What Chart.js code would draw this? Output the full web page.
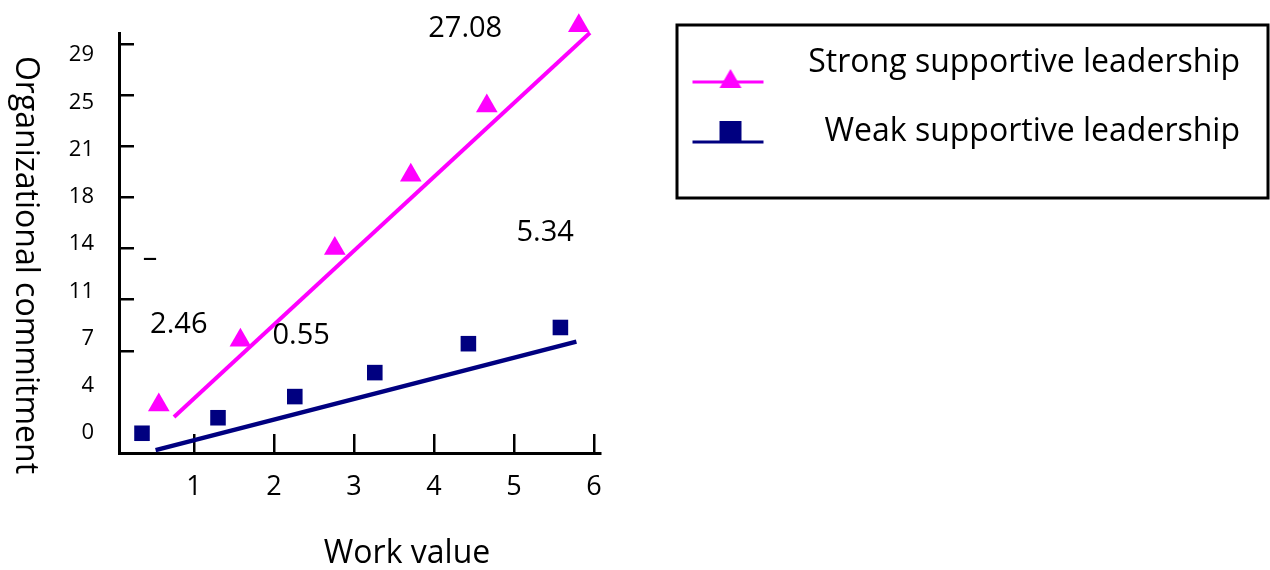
<!DOCTYPE html>
<html>
<head>
<meta charset="utf-8">
<title>Work value and organizational commitment</title>
<script src="https://cdn.jsdelivr.net/npm/chart.js@4.4.1/dist/chart.umd.min.js"></script>
<style>
  body { margin: 0; background: #fff; }
  .box { position: relative; width: 1270px; height: 570px; }
</style>
</head>
<body>
<div class="box"><canvas id="chart"></canvas></div>
<script>
// work value (x) and organizational commitment (y)
const strongWork = [0.56, 1.58, 2.76, 3.71, 4.66, 5.81];
const strongCommit = [3.4, 8.0, 14.5, 19.7, 24.6, 30.3];
const weakWork = [0.35, 1.3, 2.26, 3.26, 4.43, 5.58];
const weakCommit = [1.4, 2.5, 4.0, 5.7, 7.75, 8.9];

// ends of the two fitted lines
const strongFitWork = [0.75, 5.95];
const strongFitCommit = [2.55, 29.8];
const weakFitWork = [0.52, 5.78];
const weakFitCommit = [0.2, 7.9];

const seriesNames = ['Strong supportive leadership', 'Weak supportive leadership'];
const xTickValues = [1, 2, 3, 4, 5, 6];
const yTickLabels = ['0', '4', '7', '11', '14', '18', '21', '25', '29'];
const yTopValue = 29;

// numbers printed inside the plot, placed in data units
const noteTexts = ['27.08', '2.46', '0.55', '5.34', '–'];
const noteWork = [4.39, 0.81, 2.34, 5.39, 0.45];
const noteCommit = [30.1, 9.1, 8.3, 15.6, 13.8];

const pink = '#ff00ff';
const navy = '#000080';
const FONT = '"Open Sans"';

function points(xs, ys) {
    return xs.map((x, i) => ({ x: x, y: ys[i] }));
}

// little line + marker sample used in the legend
function legendSymbol(color, marker) {
    const c = document.createElement('canvas');
    c.width = 80;
    c.height = 54;
    const g = c.getContext('2d');
    g.fillStyle = color;
    g.strokeStyle = color;
    g.lineWidth = 3;
    const lineY = marker === 'triangle' ? 46 : 37;
    g.beginPath();
    g.moveTo(5, lineY);
    g.lineTo(76, lineY);
    g.stroke();
    if (marker === 'triangle') {
        g.beginPath();
        g.moveTo(43, 33);
        g.lineTo(54, 52);
        g.lineTo(32, 52);
        g.closePath();
        g.fill();
    } else {
        g.fillRect(32, 16, 22, 21);
    }
    return c;
}
const legendSymbols = [legendSymbol(pink, 'triangle'), legendSymbol(navy, 'rect')];

const extras = {
    id: 'extras',
    afterLayout(chart) {
        // first legend row sits a bit above the top of the plot
        chart.legend.top = chart.chartArea.top - 23;
    },
    afterDraw(chart) {
        const ctx = chart.ctx;
        const area = chart.chartArea;
        const sx = chart.scales.x;
        const sy = chart.scales.y;
        const lg = chart.legend;

        ctx.save();
        ctx.fillStyle = '#000';
        ctx.textAlign = 'center';
        ctx.textBaseline = 'middle';
        ctx.font = '29px ' + FONT;
        noteTexts.forEach((t, i) => {
            ctx.fillText(t, sx.getPixelForValue(noteWork[i]), sy.getPixelForValue(noteCommit[i]));
        });

        ctx.font = '32px ' + FONT;
        ctx.fillText('Work value', area.left + 288, chart.height - 16);
        ctx.translate(25, (area.top + area.bottom) / 2 + 22);
        ctx.rotate(Math.PI / 2);
        ctx.fillText('Organizational commitment', 0, 0);
        ctx.restore();

        // frame round the legend
        ctx.save();
        ctx.strokeStyle = '#000';
        ctx.lineWidth = 3;
        ctx.strokeRect(lg.left + 77, lg.top + 15, lg.width - 49, 173);
        ctx.restore();
    }
};

new Chart(document.getElementById('chart'), {
    type: 'scatter',
    data: {
        datasets: [
            {
                label: seriesNames[0],
                data: points(strongWork, strongCommit),
                pointStyle: 'triangle',
                pointRadius: 12.5,
                pointHoverRadius: 12.5,
                backgroundColor: pink,
                borderWidth: 0,
                clip: false
            },
            {
                label: 'strong fit',
                data: points(strongFitWork, strongFitCommit),
                showLine: true,
                pointRadius: 0,
                borderColor: pink,
                borderWidth: 4,
                clip: false
            },
            {
                label: seriesNames[1],
                data: points(weakWork, weakCommit),
                pointStyle: 'rect',
                pointRadius: 11,
                pointHoverRadius: 11,
                backgroundColor: navy,
                borderWidth: 0,
                clip: false
            },
            {
                label: 'weak fit',
                data: points(weakFitWork, weakFitCommit),
                showLine: true,
                pointRadius: 0,
                borderColor: navy,
                borderWidth: 4.5,
                clip: false
            }
        ]
    },
    options: {
        responsive: true,
        maintainAspectRatio: false,
        animation: false,
        layout: { padding: { top: 33, right: 30, bottom: 0, left: 0 } },
        scales: {
            x: {
                type: 'linear',
                position: 'bottom',
                min: 0.0625,
                max: 6.075,
                afterBuildTicks: s => { s.ticks = xTickValues.map(v => ({ value: v })); },
                afterFit: s => { s.height = 117; },
                border: { color: '#000', width: 3 },
                grid: { drawOnChartArea: false, tickLength: -19, color: '#000', lineWidth: 2.5 },
                ticks: { color: '#000', font: { family: FONT, size: 27 }, padding: 37 }
            },
            y: {
                type: 'linear',
                position: 'left',
                weight: 0,
                min: 0,
                max: 29.78,
                afterBuildTicks: s => {
                    const n = yTickLabels.length - 1;
                    s.ticks = yTickLabels.slice(2).map((t, i) => ({ value: yTopValue * (i + 2) / n }));
                },
                afterFit: s => { s.width = 0; },
                border: { color: '#000', width: 3 },
                grid: { drawOnChartArea: false, tickLength: -15, color: '#000', lineWidth: 2.5 },
                ticks: { display: false }
            },
            yLabels: {
                type: 'linear',
                position: 'left',
                weight: 1,
                min: -0.423,
                max: 8.466,
                afterBuildTicks: s => { s.ticks = yTickLabels.map((t, i) => ({ value: i })); },
                afterFit: s => { s.width = 119; },
                border: { display: false },
                grid: { display: false, drawTicks: true, tickLength: 25 },
                ticks: {
                    color: '#000',
                    font: { family: FONT, size: 22 },
                    padding: 0,
                    callback: v => yTickLabels[v]
                }
            }
        },
        plugins: {
            tooltip: { enabled: false },
            legend: {
                position: 'right',
                align: 'start',
                maxWidth: 640,
                labels: {
                    usePointStyle: true,
                    pointStyleWidth: 181,
                    padding: 37,
                    color: '#000',
                    textAlign: 'right',
                    font: { family: FONT, size: 32 },
                    generateLabels: chart => Chart.defaults.plugins.legend.labels.generateLabels(chart)
                        .filter(item => item.datasetIndex % 2 === 0)
                        .map(item => Object.assign(item, { pointStyle: legendSymbols[item.datasetIndex / 2] }))
                }
            }
        }
    },
    plugins: [extras]
});
</script>
</body>
</html>
